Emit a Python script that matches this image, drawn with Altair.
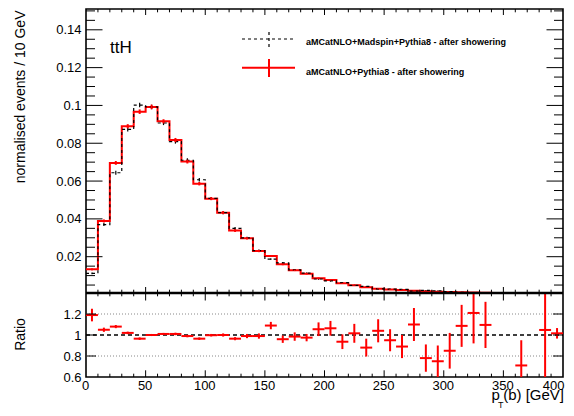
import altair as alt
import pandas as pd

FONT = "Liberation Sans"

# ---------------- data ----------------
bin_lo = list(range(0, 400, 10))  # 10 GeV bins, 0..400

# aMCatNLO+Pythia8 (red)
red_vals = [0.0133, 0.0389, 0.0696, 0.0890, 0.0967, 0.0992, 0.0916, 0.0817, 0.0703, 0.0586,
            0.0507, 0.0433, 0.0338, 0.0297, 0.0230, 0.0204, 0.0160, 0.0128, 0.0110, 0.0086,
            0.0077, 0.0059, 0.0049, 0.0038, 0.0031, 0.0027, 0.0024, 0.0020, 0.0017, 0.0015,
            0.0013, 0.0012, 0.0011, 0.0009, 0.0008, 0.0007, 0.0006, 0.0005, 0.0005, 0.0004]
red_err = [0.0005, 0.0008, 0.0010, 0.0011, 0.0012, 0.0012, 0.0011, 0.0011, 0.0010, 0.0009,
           0.0008, 0.0008, 0.0007, 0.0006, 0.0006, 0.0005, 0.0005, 0.0004, 0.0004, 0.0004,
           0.0003, 0.0003, 0.0003, 0.0002, 0.0002, 0.0002, 0.0002, 0.0002, 0.0002, 0.0001,
           0.0001, 0.0001, 0.0001, 0.0001, 0.0001, 0.0001, 0.0001, 0.0001, 0.0001, 0.0001]

# aMCatNLO+Madspin+Pythia8 (black dashed)
black_vals = [0.0112, 0.0370, 0.0644, 0.0873, 0.1002, 0.0992, 0.0907, 0.0809, 0.0710, 0.0607,
              0.0508, 0.0433, 0.0350, 0.0300, 0.0232, 0.0187, 0.0167, 0.0130, 0.0113, 0.0082,
              0.0072, 0.0063, 0.0048, 0.0043, 0.0030, 0.0028, 0.0027, 0.0018, 0.0022, 0.0020,
              0.0015, 0.0011, 0.0009, 0.0008, 0.0005, 0.0005, 0.00085, 0.0003, 0.00048, 0.0004]
black_err = [0.0005, 0.0008, 0.0010, 0.0011, 0.0012, 0.0012, 0.0011, 0.0011, 0.0010, 0.0009,
             0.0008, 0.0008, 0.0007, 0.0006, 0.0006, 0.0005, 0.0005, 0.0004, 0.0004, 0.0004,
             0.0003, 0.0003, 0.0003, 0.0002, 0.0002, 0.0002, 0.0002, 0.0002, 0.0002, 0.0001,
             0.0001, 0.0001, 0.0001, 0.0001, 0.0001, 0.0001, 0.0001, 0.0001, 0.0001, 0.0001]

# ratio (red / black); None = outside the displayed range
ratio_vals = [1.19, 1.05, 1.08, 1.02, 0.965, 1.0, 1.01, 1.01, 0.99, 0.965,
              0.998, 1.0, 0.965, 0.99, 0.99, 1.09, 0.96, 0.985, 0.975, 1.055,
              1.064, 0.936, 1.016, 0.88, 1.04, 0.95, 0.89, 1.10, 0.78, 0.75,
              0.85, 1.087, 1.21, 1.096, None, None, 0.71, None, 1.048, 1.016]
ratio_err = [0.06, 0.02, 0.015, 0.012, 0.012, 0.01, 0.01, 0.012, 0.012, 0.012,
             0.012, 0.015, 0.015, 0.02, 0.025, 0.035, 0.035, 0.04, 0.035, 0.065,
             0.07, 0.07, 0.09, 0.085, 0.11, 0.105, 0.11, 0.157, 0.13, 0.15,
             0.17, 0.2, 0.29, 0.22, None, None, 0.24, None, 0.6, 0.05]

legend_labels = ["aMCatNLO+Madspin+Pythia8 - after showering",
                 "aMCatNLO+Pythia8 - after showering"]
x_labels = [0, 50, 100, 150, 200, 250, 300, 350, 400]
y_labels = [0.02, 0.04, 0.06, 0.08, 0.1, 0.12, 0.14]
ratio_labels = [0.6, 0.8, 1.0, 1.2]

# ---------------- layout ----------------
W = 477          # plot width
H1 = 284         # height of the distribution panel
H2 = 84          # height of the ratio panel
H = H1 + H2
XDOM = [0, 400]
YDOM = [0.0008, 0.151]
RDOM = [0.6, 1.4]

BW = 10
hist = pd.DataFrame({"lo": bin_lo, "red": red_vals, "black": black_vals,
                     "rerr": red_err, "berr": black_err})
hist["mid"] = hist["lo"] + BW / 2
hist["r_lo"] = hist["red"] - hist["rerr"]
hist["r_hi"] = hist["red"] + hist["rerr"]
hist["b_lo"] = hist["black"] - hist["berr"]
hist["b_hi"] = hist["black"] + hist["berr"]

step = pd.DataFrame({"x": bin_lo + [400],
                     "red": red_vals + [red_vals[-1]],
                     "black": black_vals + [black_vals[-1]]})

rat = pd.DataFrame({"lo": bin_lo, "r": ratio_vals, "e": ratio_err}).dropna()
rat["hi"] = rat["lo"] + BW
rat["mid"] = rat["lo"] + BW / 2
rat["r_lo"] = rat["r"] - rat["e"]
rat["r_hi"] = rat["r"] + rat["e"]

xs = alt.Scale(domain=XDOM, nice=False, zero=False)
ys = alt.Scale(domain=YDOM, nice=False, zero=False, clamp=True, range=[H1, 0])
rs = alt.Scale(domain=RDOM, nice=False, zero=False, clamp=True, range=[H, H1])

x_major = list(range(50, 400, 50))
x_minor = [v for v in range(10, 400, 10) if v % 50 != 0]
y_major = y_labels
y_minor = [round(v * 0.005, 3) for v in range(1, 31) if v % 4 != 0]

RED = "#ff0000"


def yticks(vals, scale, length):
    d = pd.DataFrame({"v": vals})
    left = alt.Chart(d).mark_rule(color="black", strokeWidth=1).encode(
        x=alt.value(0), x2=alt.value(length), y=alt.Y("v:Q", scale=scale))
    right = alt.Chart(d).mark_rule(color="black", strokeWidth=1).encode(
        x=alt.value(W), x2=alt.value(W - length), y=alt.Y("v:Q", scale=scale))
    return [left, right]


def xticks(vals, y0, y1):
    d = pd.DataFrame({"v": vals})
    return alt.Chart(d).mark_rule(color="black", strokeWidth=1).encode(
        x=alt.X("v:Q", scale=xs), y=alt.value(y0), y2=alt.value(y1))


# ---------------- distribution panel ----------------
red_line = alt.Chart(step).mark_line(interpolate="step-after", color=RED,
                                     strokeWidth=2, clip=True).encode(
    x=alt.X("x:Q", scale=xs),
    y=alt.Y("red:Q", scale=ys,
            axis=alt.Axis(orient="left", values=y_labels, format="~g", tickSize=0,
                          domain=False, grid=False, labelFont=FONT, labelFontSize=13,
                          labelPadding=5, labelColor="black",
                          title="normalised events / 10 GeV", titleFont=FONT,
                          titleFontSize=14, titleFontWeight="normal", titleColor="black",
                          titleAngle=270, titleAlign="right", titleBaseline="alphabetic",
                          titleX=-62, titleY=1)))
black_line = alt.Chart(step).mark_line(interpolate="step-after", color="black",
                                       strokeWidth=1.2, strokeDash=[3, 3], clip=True).encode(
    x=alt.X("x:Q", scale=xs), y=alt.Y("black:Q", scale=ys))
black_eb = alt.Chart(hist).mark_rule(color="black", strokeWidth=1.2, clip=True).encode(
    x=alt.X("mid:Q", scale=xs), y=alt.Y("b_lo:Q", scale=ys), y2="b_hi:Q")
red_eb = alt.Chart(hist).mark_rule(color=RED, strokeWidth=2, clip=True).encode(
    x=alt.X("mid:Q", scale=xs), y=alt.Y("r_lo:Q", scale=ys), y2="r_hi:Q")

one = pd.DataFrame({"a": [0]})
leg_black_h = alt.Chart(one).mark_rule(color="black", strokeWidth=1.2, strokeDash=[3, 3]).encode(
    x=alt.value(156), x2=alt.value(209), y=alt.value(30))
leg_black_v = alt.Chart(one).mark_rule(color="black", strokeWidth=1.2, strokeDash=[3, 3]).encode(
    x=alt.value(183), y=alt.value(23), y2=alt.value(38))
leg_red_h = alt.Chart(one).mark_rule(color=RED, strokeWidth=2).encode(
    x=alt.value(156), x2=alt.value(209), y=alt.value(58.7))
leg_red_v = alt.Chart(one).mark_rule(color=RED, strokeWidth=2).encode(
    x=alt.value(183), y=alt.value(50), y2=alt.value(68))
leg_text1 = alt.Chart(pd.DataFrame({"t": [legend_labels[0]]})).mark_text(
    align="left", baseline="middle", font=FONT, fontSize=9, fontWeight="bold",
    color="black").encode(x=alt.value(220), y=alt.value(32.7), text="t:N")
leg_text2 = alt.Chart(pd.DataFrame({"t": [legend_labels[1]]})).mark_text(
    align="left", baseline="middle", font=FONT, fontSize=9, fontWeight="bold",
    color="black").encode(x=alt.value(220), y=alt.value(62.7), text="t:N")
tth = alt.Chart(pd.DataFrame({"t": ["ttH"]})).mark_text(
    align="left", baseline="alphabetic", font=FONT, fontSize=17, color="black").encode(
    x=alt.value(24), y=alt.value(44.3), text="t:N")

top = alt.layer(
    red_line, black_line, black_eb, red_eb,
    *yticks(y_major, ys, 16.5), *yticks(y_minor, ys, 9),
)

# ---------------- ratio panel ----------------
grid = alt.Chart(pd.DataFrame({"v": [0.8, 1.2]})).mark_rule(
    color="#888888", strokeWidth=1, strokeDash=[1, 2]).encode(
    x=alt.value(0), x2=alt.value(W),
    y=alt.Y("v:Q", scale=rs,
            axis=alt.Axis(orient="left", values=ratio_labels, format="~g", tickSize=0,
                          domain=False, grid=False, labelFont=FONT, labelFontSize=13,
                          labelPadding=5, labelColor="black",
                          title="Ratio", titleFont=FONT, titleFontSize=14,
                          titleFontWeight="normal", titleColor="black",
                          titleAngle=270, titleAlign="center", titleBaseline="alphabetic",
                          titleX=-62, titleY=H1 + 41)))
one_line = alt.Chart(pd.DataFrame({"v": [1.0]})).mark_rule(
    color="black", strokeWidth=1.5, strokeDash=[4, 3]).encode(
    x=alt.value(0), x2=alt.value(W), y=alt.Y("v:Q", scale=rs))
r_h = alt.Chart(rat).mark_rule(color=RED, strokeWidth=2, clip=True).encode(
    x=alt.X("lo:Q", scale=xs,
            axis=alt.Axis(values=x_labels, format="d", tickSize=0, domain=False, grid=False,
                          labelFont=FONT, labelFontSize=13, labelPadding=2,
                          labelAlign={"condition": {"test": "datum.value >= 400",
                                                    "value": "right"},
                                      "value": "center"},
                          labelOffset={"condition": {"test": "datum.value >= 400",
                                                     "value": 1},
                                       "value": -1},
                          labelColor="black", title=None)),
    x2="hi:Q", y=alt.Y("r:Q", scale=rs))
r_v = alt.Chart(rat).mark_rule(color=RED, strokeWidth=2, clip=True).encode(
    x=alt.X("mid:Q", scale=xs), y=alt.Y("r_lo:Q", scale=rs), y2="r_hi:Q")

bottom = alt.layer(
    grid, one_line, r_h, r_v,
    *yticks([0.8, 1.0, 1.2], rs, 10),
)

# ---------------- frame details shared by both panels ----------------
boundary = alt.Chart(one).mark_rule(color="black", strokeWidth=2.5).encode(
    x=alt.value(0), x2=alt.value(W), y=alt.value(H1))
x_tick_layers = [
    xticks(x_major, 0, 6), xticks(x_minor, 0, 3.3),                 # top frame
    xticks(x_major, H1 - 6, H1 + 7.5), xticks(x_minor, H1 - 3.3, H1 + 3.3),  # panel boundary
    xticks(x_major, H, H - 6.7), xticks(x_minor, H, H - 3.3),       # bottom frame
]

xt_p = alt.Chart(pd.DataFrame({"t": ["p"]})).mark_text(
    align="left", baseline="alphabetic", font=FONT, fontSize=15, color="black").encode(
    x=alt.value(405.5), y=alt.value(391), text="t:N")
xt_T = alt.Chart(pd.DataFrame({"t": ["T"]})).mark_text(
    align="left", baseline="alphabetic", font=FONT, fontSize=9, color="black").encode(
    x=alt.value(412), y=alt.value(399), text="t:N")
xt_rest = alt.Chart(pd.DataFrame({"t": ["(b) [GeV]"]})).mark_text(
    align="right", baseline="alphabetic", font=FONT, fontSize=15, color="black").encode(
    x=alt.value(478), y=alt.value(391), text="t:N")

chart = alt.layer(
    top, bottom, boundary, *x_tick_layers,
    leg_black_h, leg_black_v, leg_red_h, leg_red_v, leg_text1, leg_text2, tth,
    xt_p, xt_T, xt_rest,
).resolve_scale(y="independent").properties(
    width=W, height=H,
    autosize=alt.AutoSizeParams(type="none"),
    padding={"left": 86, "top": 9, "right": 11, "bottom": 33},
    background="white",
).configure_view(stroke="black", strokeWidth=1.6)

chart.save("out.html", embed_options={"renderer": "svg", "actions": False})
